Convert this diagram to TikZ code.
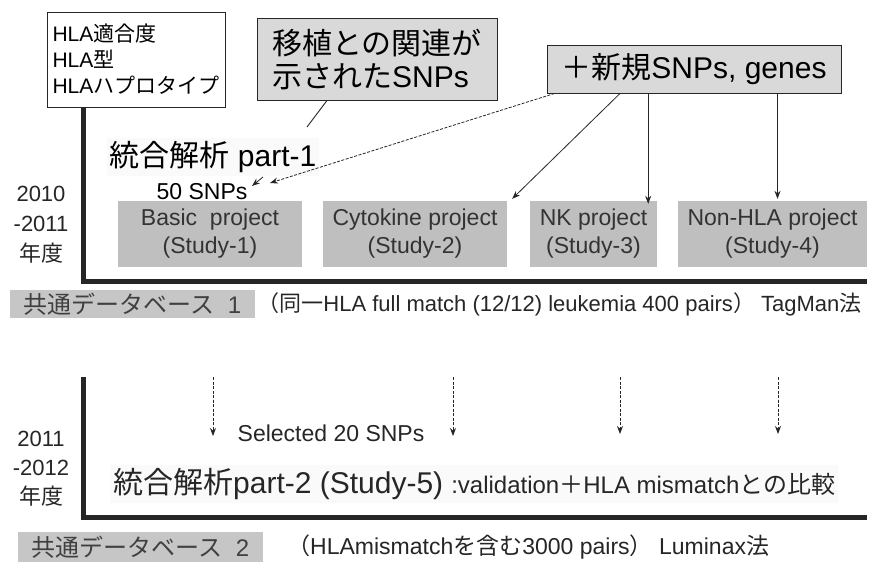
\documentclass[tikz,border=0pt]{standalone}
\usepackage{fontspec}
\setmainfont{Liberation Sans}
\newfontfamily\jp{Noto Sans CJK JP}
\usetikzlibrary{arrows.meta}
\newcommand\fs[2]{\fontsize{#1}{#2}\selectfont}
\begin{document}
\begin{tikzpicture}[x=1pt,y=-1pt,
  framebox/.style={draw=black!85, line width=0.9pt, fill=white, inner sep=0pt},
  greybox/.style={draw=black!85, line width=0.9pt, fill=gray!30, inner sep=0pt},
  projbox/.style={fill=gray!50, text=black!80, align=center, inner sep=0pt, minimum height=66pt},
  dbbox/.style={fill=gray!45, text=black!75, inner sep=0pt},
  faint/.style={fill=gray!4, inner sep=3pt},
  thickline/.style={line width=5pt, black!85, line join=miter},
  arr/.style={-{Stealth[length=8pt,width=6pt]}, line width=0.8pt, black!85},
  dasharr/.style={arr, dash pattern=on 3pt off 1.5pt},
  plain/.style={inner sep=1pt}
]
\useasboundingbox[fill=white] (0,0) rectangle (874,566);

% ---- top boxes
\node[framebox, minimum width=178pt, minimum height=95pt, align=left, font=\fs{21}{26}] (hla) at (136,59.5)
  {HLA{\jp 適合度}\\HLA{\jp 型}\\HLA{\jp ハプロタイプ}};
\node[greybox, minimum width=240pt, minimum height=82pt, align=left, font=\fs{30}{33}] (ishoku) at (377,59)
  {{\jp 移植との関連が}\\{\jp 示された}SNPs};
\node[greybox, minimum width=294pt, minimum height=48pt, font=\fs{30}{33}] (shinki) at (694,69)
  {{\jp ＋新規}SNPs, genes};

% ---- section 1
\node[faint, font=\fs{30}{33}] (p1) at (213,157) {{\jp 統合解析} part-1};
\node[plain, font=\fs{23}{26}] (snp50) at (202,192) {50 SNPs};

\node[projbox, minimum width=184pt, font=\fs{23}{28}] (basic) at (210,234) {Basic\ \ project\\(Study-1)};
\node[projbox, minimum width=184pt, font=\fs{23}{28}] (cyto) at (415,234) {Cytokine project\\(Study-2)};
\node[projbox, minimum width=127pt, font=\fs{23}{28}] (nk) at (593.5,234) {NK project\\(Study-3)};
\node[projbox, minimum width=189pt, font=\fs{23}{28}] (nonhla) at (772.5,234) {Non-HLA project\\(Study-4)};

\node[align=center, font=\fs{22}{30}, text=black!85] (yr1) at (41,225) {2010\\-2011\\{\jp 年度}};

\draw[thickline] (83,0 |- hla.south) -- (83,281) -- (867,281);

\node[dbbox, minimum width=245pt, minimum height=28pt, font=\fs{24}{28}] (db1) at (132.5,304) {{\jp 共通データベース}\ \ 1};
\node[anchor=west, inner sep=2pt, font=\fs{22}{26}, text=black!85] (db1t) at (db1.east)
  {{\jp （同一}HLA full match (12/12) leukemia 400 pairs{\jp ）} TagMan{\jp 法}};

% connectors section 1
\coordinate (c1) at (307,127);
\draw[line width=0.9pt, black!85] ([xshift=-50pt]ishoku.south) -- (c1);
\coordinate (sa) at (263,177);
\coordinate (sb) at (252,186);
\draw[arr] (sa) -- (sb);
\coordinate (da) at (270,183);
\draw[dasharr] ([xshift=8pt]shinki.south west) -- (da);
\draw[arr] ([xshift=-74pt]shinki.south) -- ([xshift=5pt,yshift=2pt]cyto.north east);
\draw[arr] ([xshift=-9pt]nk.north east |- shinki.south) -- ([xshift=-9pt,yshift=-3pt]nk.north east);
\draw[arr] ([xshift=5pt]nonhla.north |- shinki.south) -- ([xshift=5pt,yshift=2pt]nonhla.north);

% ---- section 2
\draw[thickline] (83,377) -- (83,517) -- (867,517);

\coordinate (t1) at (213,377); \coordinate (e1) at (213,436);
\coordinate (t2) at (453,377); \coordinate (e2) at (453,436);
\coordinate (t3) at (620,377); \coordinate (e3) at (620,434);
\coordinate (t4) at (778,377); \coordinate (e4) at (778,434);
\draw[dasharr] (t1) -- (e1);
\draw[dasharr] (t2) -- (e2);
\draw[dasharr] (t3) -- (e3);
\draw[dasharr] (t4) -- (e4);

\node[plain, font=\fs{23}{26}, text=black!85] (sel) at (331,433) {Selected 20 SNPs};
\node[faint, anchor=west, text=black!85] (p2) at (110,484)
  {{\fs{30}{34}{\jp 統合解析}part-2 (Study-5)}\hspace{8pt}{\fs{24}{28}:validation{\jp ＋}HLA mismatch{\jp との比較}}};

\node[align=center, font=\fs{22}{29}, text=black!85] (yr2) at (41,469) {2011\\-2012\\{\jp 年度}};

\node[dbbox, minimum width=245pt, minimum height=30pt, font=\fs{24}{28}] (db2) at (140.5,547) {{\jp 共通データベース}\ \ 2};
\node[anchor=west, inner sep=2pt, font=\fs{23}{26}, text=black!85] (db2t) at (285,547)
  {{\jp （}HLAmismatch{\jp を含む}3000 pairs{\jp ）} Luminax{\jp 法}};
\end{tikzpicture}
\end{document}
